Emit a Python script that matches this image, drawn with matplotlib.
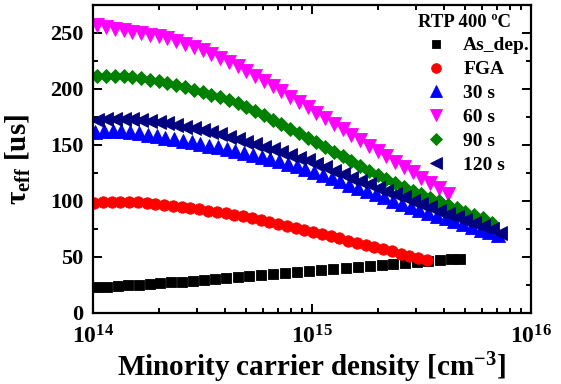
import numpy as np
import matplotlib
matplotlib.use("Agg")
import matplotlib.pyplot as plt
from matplotlib.ticker import FixedLocator, LogLocator, FuncFormatter, MultipleLocator

plt.rcParams['font.family'] = ['Liberation Serif', 'DejaVu Serif']
plt.rcParams['font.weight'] = 'bold'
plt.rcParams['mathtext.fontset'] = 'custom'
plt.rcParams['mathtext.rm'] = 'Liberation Serif:bold'
plt.rcParams['mathtext.bf'] = 'Liberation Serif:bold'
plt.rcParams['mathtext.it'] = 'Liberation Serif:bold'

# ---- data (log10 of carrier density, lifetime in us) ----
asdep_logx = [14.017, 14.065, 14.113, 14.161, 14.21, 14.26, 14.306, 14.356, 14.405, 14.455,
              14.507, 14.557, 14.607, 14.66, 14.712, 14.767, 14.82, 14.877, 14.93, 14.985,
              15.04, 15.096, 15.155, 15.21, 15.265, 15.32, 15.37, 15.425, 15.48, 15.53,
              15.584, 15.635, 15.676]
asdep_tau = [22.9, 23.5, 24.1, 24.7, 25.3, 25.9, 26.5, 27.4, 28.0, 28.9,
             29.8, 30.4, 31.25, 32.1, 32.7, 33.6, 34.8, 35.4, 36.5, 37.6,
             38.6, 39.6, 40.6, 41.5, 42.4, 43.3, 44.1, 44.9, 45.7, 46.5,
             47.3, 48.3, 47.8]

fga_logx = [14.005, 14.045, 14.085, 14.125, 14.165, 14.205, 14.245, 14.285, 14.325, 14.365,
            14.405, 14.445, 14.485, 14.525, 14.565, 14.605, 14.645, 14.685, 14.725, 14.765,
            14.805, 14.845, 14.885, 14.925, 14.965, 15.005, 15.045, 15.085, 15.125, 15.165,
            15.205, 15.245, 15.285, 15.325, 15.365, 15.405, 15.445, 15.485, 15.525]
fga_tau = [98.4, 98.9, 99.2, 99.4, 99.4, 98.9, 98.1, 97.1, 96.2, 95.3,
           94.4, 93.5, 92.6, 91.5, 90.3, 89.0, 87.7, 86.3, 84.9, 83.3,
           81.6, 79.8, 78.0, 76.1, 74.2, 72.3, 70.4, 68.5, 66.6, 64.7,
           62.8, 60.9, 59.0, 57.0, 55.0, 53.0, 51.0, 49.0, 47.0]

s30_logx = [14.01, 14.05, 14.09, 14.13, 14.17, 14.21, 14.25, 14.29, 14.33, 14.37,
            14.41, 14.45, 14.49, 14.53, 14.57, 14.61, 14.65, 14.69, 14.73, 14.77,
            14.81, 14.85, 14.89, 14.93, 14.97, 15.01, 15.05, 15.09, 15.13, 15.17,
            15.21, 15.25, 15.29, 15.33, 15.37, 15.41, 15.45, 15.49, 15.53, 15.57,
            15.61, 15.65, 15.69, 15.73, 15.77, 15.81, 15.85]
s30_tau = [161.8, 162.5, 162.8, 162.5, 161.6, 160.4, 159.2, 158.0, 156.6, 155.2,
           153.8, 152.3, 150.8, 149.3, 147.8, 146.2, 144.6, 143.0, 141.2, 139.4,
           137.4, 135.3, 133.1, 130.8, 128.4, 125.8, 123.1, 120.3, 117.5, 114.7,
           111.9, 109.0, 106.1, 103.2, 100.4, 97.6, 94.9, 92.2, 89.6, 87.0,
           84.4, 81.8, 79.3, 76.8, 74.4, 72.0, 69.6]

s60_logx = [14.02, 14.06, 14.10, 14.14, 14.18, 14.22, 14.26, 14.30, 14.34, 14.38,
            14.42, 14.46, 14.50, 14.54, 14.58, 14.62, 14.66, 14.70, 14.74, 14.78,
            14.82, 14.86, 14.90, 14.94, 14.98, 15.02, 15.06, 15.10, 15.14, 15.18,
            15.22, 15.26, 15.30, 15.34, 15.38, 15.42, 15.46, 15.50, 15.54, 15.58,
            15.62]
s60_tau = [257.2, 255.6, 254.0, 252.6, 251.2, 249.8, 248.4, 247.0, 245.3, 242.9,
           240.3, 237.4, 234.4, 231.1, 227.6, 224.0, 220.2, 215.9, 211.7, 207.3,
           202.7, 198.0, 193.2, 188.4, 183.7, 178.9, 174.0, 169.1, 164.1, 159.2,
           154.4, 149.5, 144.7, 139.9, 135.0, 130.2, 125.5, 120.8, 116.3, 111.8,
           106.0]

s90_logx = [14.02, 14.06, 14.10, 14.14, 14.18, 14.22, 14.26, 14.30, 14.34, 14.38,
            14.42, 14.46, 14.50, 14.54, 14.58, 14.62, 14.66, 14.70, 14.74, 14.78,
            14.82, 14.86, 14.90, 14.94, 14.98, 15.02, 15.06, 15.10, 15.14, 15.18,
            15.22, 15.26, 15.30, 15.34, 15.38, 15.42, 15.46, 15.50, 15.54, 15.58,
            15.62, 15.66, 15.70, 15.74, 15.78, 15.82]
s90_tau = [211.3, 211.7, 211.8, 211.3, 210.5, 209.4, 208.3, 206.7, 205.1, 203.3,
           201.5, 199.5, 197.4, 195.0, 192.5, 189.9, 187.1, 183.8, 180.2, 176.5,
           172.5, 168.6, 164.6, 160.6, 156.6, 152.5, 148.3, 144.1, 139.8, 135.6,
           131.4, 127.1, 122.9, 119.3, 116.0, 112.6, 109.3, 106.0, 102.8, 99.8,
           96.8, 93.7, 90.6, 87.6, 84.6, 80.5]

s120_logx = [14.02, 14.06, 14.10, 14.14, 14.18, 14.22, 14.26, 14.30, 14.34, 14.38,
             14.42, 14.46, 14.50, 14.54, 14.58, 14.62, 14.66, 14.70, 14.74, 14.78,
             14.82, 14.86, 14.90, 14.94, 14.98, 15.02, 15.06, 15.10, 15.14, 15.18,
             15.22, 15.26, 15.30, 15.34, 15.38, 15.42, 15.46, 15.50, 15.54, 15.58,
             15.62, 15.66, 15.70, 15.74, 15.78, 15.82, 15.86]
s120_tau = [172.3, 173.0, 173.3, 173.3, 173.0, 172.4, 171.6, 170.6, 169.4, 168.0,
            166.5, 164.9, 163.2, 161.4, 159.5, 157.4, 155.2, 153.0, 150.7, 148.3,
            146.0, 143.6, 141.2, 138.8, 136.3, 133.2, 130.1, 127.0, 124.0, 120.9,
            117.8, 114.8, 111.7, 109.0, 106.2, 103.3, 100.4, 97.0, 94.2, 91.4,
            88.6, 85.8, 83.0, 80.2, 77.4, 74.6, 71.8]

series = [
    ("As_dep.", asdep_logx, asdep_tau, 's', 'black', 6.8),
    ("FGA", fga_logx, fga_tau, 'o', '#FF0000', 8.2),
    ("30 s", s30_logx, s30_tau, '^', '#0000FF', 10.0),
    ("60 s", s60_logx, s60_tau, 'v', '#FF00FF', 10.2),
    ("90 s", s90_logx, s90_tau, 'D', '#008000', 7.4),
    ("120 s", s120_logx, s120_tau, '<', '#000080', 10.0),
]

fig = plt.figure(figsize=(5.61, 3.84), dpi=100)
ax = fig.add_axes([0.1658, 0.1849, 0.7807, 0.8021])

for label, lx, ty, m, c, ms in series:
    ax.plot(10 ** np.array(lx), ty, linestyle='none', marker=m, color=c,
            markersize=ms, markeredgewidth=0.6, markeredgecolor=c, label=label)

ax.set_xscale('log')
ax.set_xlim(1e14, 1e16)
ax.set_ylim(0, 275)
ax.yaxis.set_major_locator(FixedLocator([0, 50, 100, 150, 200, 250]))
ax.yaxis.set_minor_locator(MultipleLocator(25))
ax.xaxis.set_major_locator(FixedLocator([1e14, 1e15, 1e16]))
ax.xaxis.set_minor_locator(LogLocator(base=10, subs=np.arange(2, 10)))
ax.xaxis.set_major_formatter(FuncFormatter(lambda v, p: r'$\mathbf{10^{%d}}$' % round(np.log10(v))))

for s in ax.spines.values():
    s.set_linewidth(1.6)
ax.tick_params(which='both', direction='in', top=True, right=True, width=1.4)
ax.tick_params(which='major', length=6.5)
ax.tick_params(which='minor', length=3.5)
ax.tick_params(axis='y', which='major', labelsize=16, pad=7)
ax.tick_params(axis='x', which='major', labelsize=17, pad=8.5)
for t in ax.get_yticklabels():
    t.set_fontweight('bold')

ax.set_xlabel(r'Minority carrier density [cm$^{\mathbf{-3}}$]', fontsize=21,
              fontweight='bold', labelpad=2)
ax.set_ylabel(r'$\mathbf{\tau_{eff}}$ [us]', fontsize=21, fontweight='bold', labelpad=12)

leg = ax.legend(loc='upper right', bbox_to_anchor=(1.0, 0.975), frameon=False, fontsize=14,
                title='RTP 400 ºC', title_fontproperties={'weight': 'bold', 'size': 13.5},
                alignment='left', handletextpad=0.45, labelspacing=0.32, borderaxespad=0.0,
                borderpad=0.05, handlelength=1.9, markerscale=0.85)
for t in leg.get_texts():
    t.set_fontweight('bold')

fig.savefig('out.png', dpi=100)
